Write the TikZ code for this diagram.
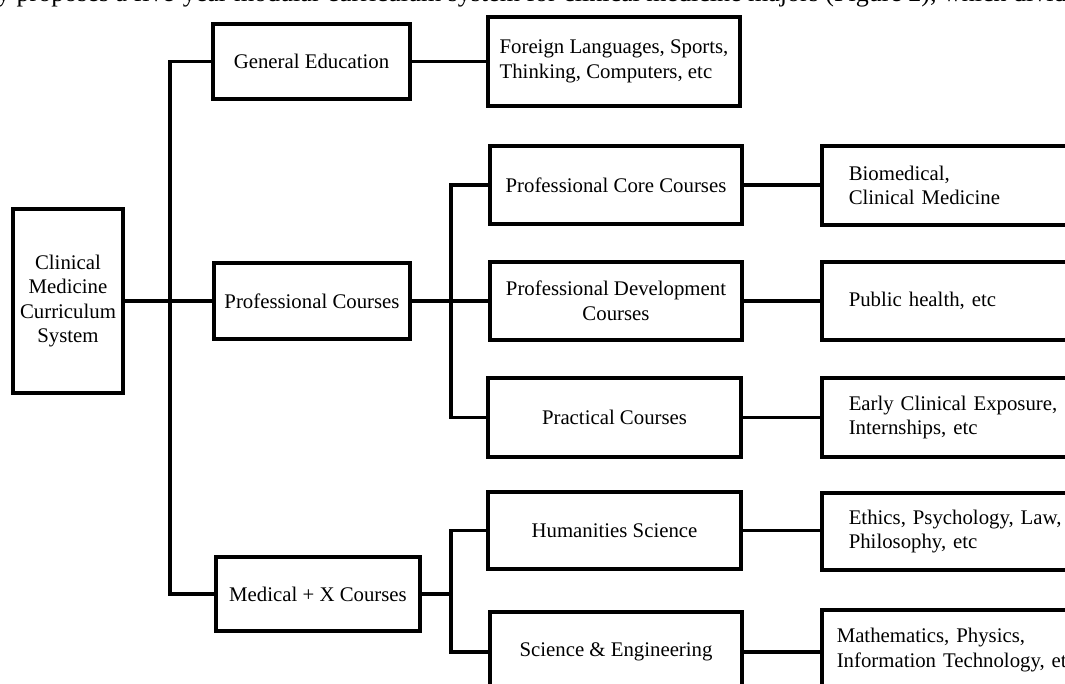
\documentclass[tikz,border=0pt]{standalone}
\usepackage{fontspec}
\setmainfont{Liberation Serif}
\begin{document}
\begin{tikzpicture}[x=1pt,y=-1pt,
  box/.style={draw, line width=3.5pt, inner sep=0pt, align=center,
    font=\fontsize{20.8}{24.5}\selectfont},
  rbox/.style={box, anchor=west, align=left, inner xsep=27pt, text width=300pt},
  link/.style={line width=3.3pt}]
\useasboundingbox (0,0) rectangle (1065,684);
\clip (0,0) rectangle (1065,684);
\fill[white] (0,0) rectangle (1065,684);

\node[anchor=base west, inner sep=0pt, font=\fontsize{26}{30}\selectfont] (intro) at (-3,1.5)
  {y proposes a five-year modular curriculum system for clinical medicine majors (Figure 2), which divides};

% level 0
\node[box, minimum width=110, minimum height=184] (root) at (68,301) {Clinical\\Medicine\\Curriculum\\System};
% level 1
\node[box, minimum width=197, minimum height=75] (ge) at (311.5,61.5) {General Education};
\node[box, minimum width=196, minimum height=76] (pc) at (312,301) {Professional Courses};
\node[box, minimum width=204, minimum height=74] (mx) at (318,594) {Medical + X Courses};
% level 2
\node[box, align=left, minimum width=252, minimum height=89] (fl) at (614,61.5) {Foreign Languages, Sports,\\Thinking, Computers, etc};
\node[box, minimum width=252, minimum height=78] (pcc) at (616,185) {Professional Core Courses};
\node[box, minimum width=252, minimum height=78] (pdc) at (616,301) {Professional Development\\Courses};
\node[box, minimum width=253, minimum height=79] (prc) at (614.5,417.5) {Practical Courses};
\node[box, minimum width=253, minimum height=77] (hum) at (614.5,530.5) {Humanities Science};
\node[box, minimum width=252, minimum height=80] (se) at (616,652) {Science \& Engineering};
% level 3
\node[rbox, minimum height=79] (bio) at (820,185.5) {Biomedical,\\Clinical Medicine};
\node[rbox, minimum height=78] (pub) at (820,301) {Public health, etc};
\node[rbox, minimum height=79] (early) at (820,417.5) {Early Clinical Exposure,\\Internships, etc};
\node[rbox, minimum height=77] (eth) at (820,531.5) {Ethics, Psychology, Law,\\Philosophy, etc};
\node[rbox, inner xsep=15pt, minimum height=80] (math) at (820,650) {Mathematics, Physics,\\Information Technology, etc};

% connectors
\coordinate (trunk) at (170,0);
\coordinate (b1) at (451,0);
\draw[link] (root.east) -- (pc.west);
\draw[link] (ge.west) -- (ge.west -| trunk) -- (mx.west -| trunk) -- (mx.west);
\draw[link] (ge.east) -- (fl.west);
\draw[link] (pc.east) -- (pdc.west);
\draw[link] (pcc.west) -- (pcc.west -| b1) -- (prc.west -| b1) -- (prc.west);
\draw[link] (mx.east) -- (mx.east -| b1);
\draw[link] (hum.west) -- (hum.west -| b1) -- (se.west -| b1) -- (se.west);
\draw[link] (pcc.east) -- (pcc.east -| bio.west);
\draw[link] (pdc.east) -- (pdc.east -| pub.west);
\draw[link] (prc.east) -- (prc.east -| early.west);
\draw[link] (hum.east) -- (hum.east -| eth.west);
\draw[link] (se.east) -- (se.east -| math.west);
\end{tikzpicture}
\end{document}
